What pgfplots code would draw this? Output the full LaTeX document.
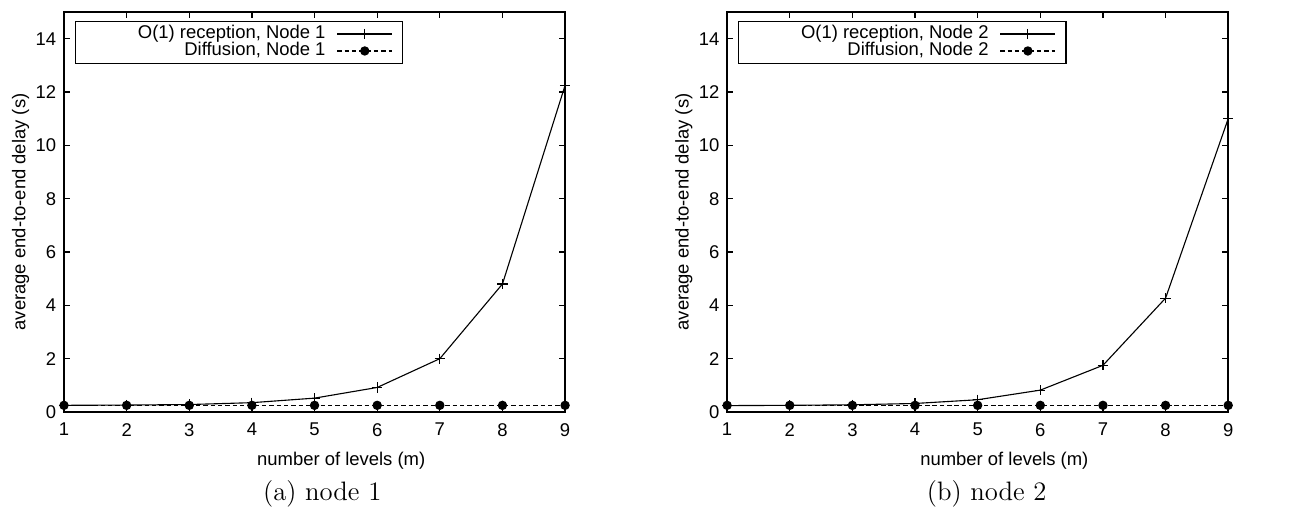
\documentclass[border=0pt]{standalone}
\usepackage{fontspec}
\usepackage{pgfplots}
\pgfplotsset{compat=1.18}
\newfontfamily\hv{Liberation Sans}
\newcommand{\af}{\hv\fontsize{8.3}{9.6}\selectfont}
\pgfplotsset{
  gp/.style={
    scale only axis, width=225.5pt, height=180pt,
    xmin=1, xmax=9, ymin=0, ymax=15,
    xtick={1,...,9}, ytick={0,2,...,14},
    axis line style={line width=0.75pt},
    tick style={black, line width=0.6pt},
    major tick length=2.8pt,
    tick align=inside,
    /pgf/number format/assume math mode=true,
    ticklabel style={font=\af},
    xticklabel style={yshift=-1.5pt},
    label style={font=\af},
    xlabel={number of levels (m)},
    ylabel={average end-to-end delay (s)},
    xlabel style={xshift=12pt, yshift=-0.2pt},
    ylabel style={yshift=-4pt},
    legend cell align=right,
    legend plot pos=right,
    legend style={font=\af, at={(0.022,0.978)}, anchor=north west, draw=black, line width=0.6pt,
      inner xsep=4.5pt, inner ysep=1.8pt,
      nodes={inner sep=0pt, text height=5.9pt, text depth=1.75pt},
      row sep=0pt,
      /tikz/every odd column/.append style={column sep=5pt}},
    legend image code/.code={\draw[mark repeat=2,mark phase=2,#1] plot coordinates {(0pt,0pt)(12.4pt,0pt)(24.75pt,0pt)};},
  },
  o1/.style={black, line width=0.5pt, mark=+, mark size=2.3pt, mark options={solid, line width=0.5pt}},
  df/.style={black, line width=0.5pt, dash pattern=on 2pt off 1.3pt, mark=*, mark size=1.85pt, mark options={solid}},
}
\begin{document}
\begin{tikzpicture}
\useasboundingbox (0,0) rectangle (590.85pt,227.7pt);
\begin{axis}[gp, at={(28.8pt,42.3pt)}, anchor=south west]
\addplot[o1] coordinates {(1,0.25)(2,0.26)(3,0.28)(4,0.35)(5,0.52)(6,0.92)(7,2.0)(8,4.8)(9,12.25)};
\addlegendentry{\hspace*{23.5pt}O(1) reception, Node 1}
\addplot[df] coordinates {(1,0.25)(2,0.25)(3,0.25)(4,0.25)(5,0.25)(6,0.25)(7,0.25)(8,0.25)(9,0.25)};
\addlegendentry{Diffusion, Node 1}
\end{axis}
\begin{axis}[gp, at={(327.2pt,42.3pt)}, anchor=south west]
\addplot[o1] coordinates {(1,0.24)(2,0.25)(3,0.27)(4,0.32)(5,0.46)(6,0.82)(7,1.75)(8,4.27)(9,11.0)};
\addlegendentry{\hspace*{23.5pt}O(1) reception, Node 2}
\addplot[df] coordinates {(1,0.25)(2,0.25)(3,0.25)(4,0.25)(5,0.25)(6,0.25)(7,0.25)(8,0.25)(9,0.25)};
\addlegendentry{Diffusion, Node 2}
\end{axis}
\node[font=\fontsize{12}{14}\selectfont] at (145pt,5.6pt) {(a) node 1};
\node[font=\fontsize{12}{14}\selectfont] at (444pt,5.6pt) {(b) node 2};
\end{tikzpicture}
\end{document}
